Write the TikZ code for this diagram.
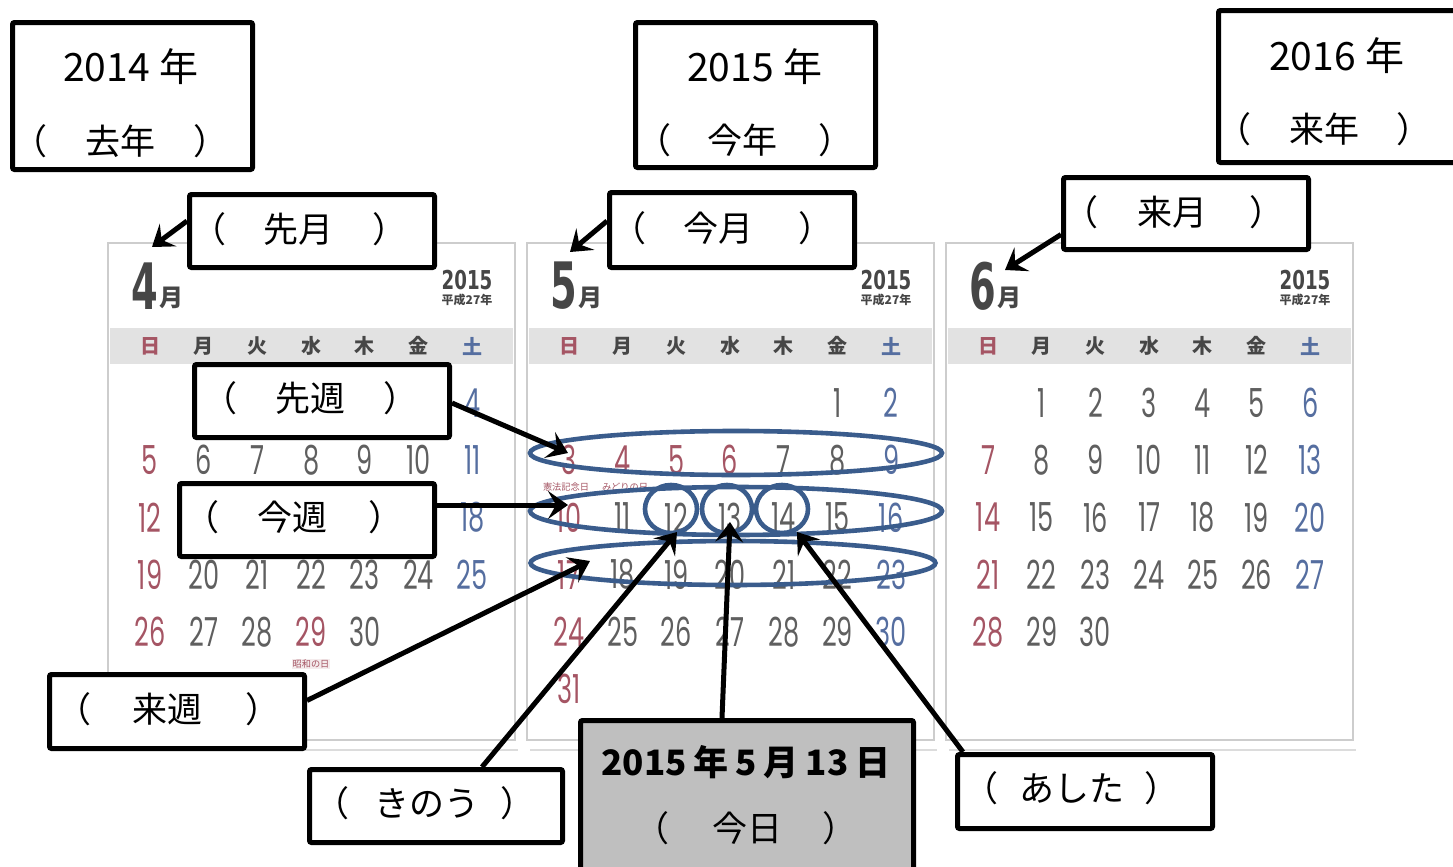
\documentclass[tikz,border=0pt]{standalone}
\usepackage{fontspec}
\setmainfont{Noto Sans CJK JP}
\newfontfamily\cjk{Noto Sans CJK JP}
\newfontfamily\numfont[FakeStretch=0.64]{Poppins}
\newfontfamily\condfont[FakeStretch=0.7]{DejaVu Sans}
\newfontfamily\bigfont[FakeStretch=0.6]{DejaVu Sans}
\usetikzlibrary{shapes.geometric,arrows.meta,calc}
\definecolor{suncol}{RGB}{165,85,100}
\definecolor{satcol}{RGB}{85,110,160}
\definecolor{wkcol}{RGB}{95,95,95}
\definecolor{ellcol}{RGB}{58,92,140}
\definecolor{bandcol}{RGB}{226,226,226}
\definecolor{framecol}{RGB}{205,205,205}
\definecolor{shadecol}{RGB}{220,220,220}
\definecolor{headcol}{RGB}{70,70,70}
\definecolor{todaycol}{RGB}{191,191,191}
\newcommand\calmonth[6]{%
  \foreach \dd in {1,...,#4}{%
    \pgfmathtruncatemacro\cmidx{\dd+#3-1}%
    \pgfmathtruncatemacro\cmcol{mod(\cmidx,7)}%
    \pgfmathtruncatemacro\cmrow{floor(\cmidx/7)}%
    \xdef\cmclr{wkcol}%
    \ifnum\cmcol=0 \xdef\cmclr{suncol}\fi
    \ifnum\cmcol=6 \xdef\cmclr{satcol}\fi
    \foreach \hh in {#5}{\ifnum\dd=\hh\relax \xdef\cmclr{suncol}\fi}%
    \xdef\cmshow{1}%
    \foreach \ss in {#6}{\ifnum\dd=\ss\relax \xdef\cmshow{0}\fi}%
    \ifnum\cmshow=1
      \node[num,text=\cmclr] (#1d\dd) at ({#2+53.7*\cmcol},{403+57.2*\cmrow}) {\dd};
    \fi
  }%
}
\newcommand\pp[3]{（\hspace{#1}#2\hspace{#3}）}
\begin{document}
\begin{tikzpicture}[x=0.5pt,y=-0.5pt,
  num/.style={font=\numfont\fontsize{20}{20}\selectfont, inner sep=0pt},
  box/.style={draw=black, line width=2.5pt, fill=white, rounded corners=1pt, inner sep=0pt},
  lbl/.style={font=\cjk\fontsize{17.5}{20}\selectfont, inner sep=0pt},
  yearlbl/.style={font=\cjk\fontsize{19.5}{22}\selectfont, inner sep=0pt},
  wk/.style={ellipse, draw=ellcol, line width=2.3pt, inner sep=0pt},
  arr/.style={line width=2.5pt, -{Stealth[length=10pt,width=14pt,inset=4pt]}},
  dow/.style={font=\cjk\bfseries\fontsize{10}{10}\selectfont, inner sep=0pt},
  holi/.style={font=\cjk\fontsize{4.6}{4.6}\selectfont, text=suncol, inner sep=0.4pt},
]
\useasboundingbox (0,0) rectangle (1453,867);

% ---- calendar panels
\foreach \k in {0,1,2}{
  \pgfmathsetmacro\ox{419*\k}
  \pgfmathtruncatemacro\mn{4+\k}
  \draw[shadecol, line width=1pt] ({111+\ox},750) -- ({518+\ox},750);
  \draw[draw=framecol, fill=white, line width=1.2pt] ({108+\ox},243) rectangle ({515+\ox},740);
  \fill[bandcol] ({110+\ox},328) rectangle ({513+\ox},364);
  \node[dow,text=suncol] (dw\k a) at ({150+\ox},346) {日};
  \node[dow,text=headcol] (dw\k b) at ({150+53.7+\ox},346) {月};
  \node[dow,text=headcol] (dw\k c) at ({150+2*53.7+\ox},346) {火};
  \node[dow,text=headcol] (dw\k d) at ({150+3*53.7+\ox},346) {水};
  \node[dow,text=headcol] (dw\k e) at ({150+4*53.7+\ox},346) {木};
  \node[dow,text=headcol] (dw\k f) at ({150+5*53.7+\ox},346) {金};
  \node[dow,text=satcol] (dw\k g) at ({150+6*53.7+\ox},346) {土};
  \node[font=\bigfont\bfseries\fontsize{32}{32}\selectfont, text=headcol, inner sep=0pt] (mlab\k) at ({145+\ox},286) {\mn};
  \node[font=\cjk\bfseries\fontsize{12}{12}\selectfont, text=headcol, inner sep=0pt] (mtsuki\k) at ({171+\ox},298) {月};
  \node[font=\condfont\bfseries\fontsize{13}{13}\selectfont, text=headcol, inner sep=0pt] (yr\k) at ({467+\ox},280) {2015};
  \node[font=\cjk\bfseries\fontsize{6}{6}\selectfont, text=headcol, inner sep=0pt] (hs\k) at ({467+\ox},300) {平成27年};
}

\calmonth{m4}{150}{3}{30}{29}{1,2,3,13,14,15,16,17}
\calmonth{m5}{569}{5}{31}{3,4,5,6}{0}
\calmonth{m6}{988}{1}{30}{0}{0}

\node[holi, fill=suncol!12] (h29) at (311,664) {昭和の日};
\node[holi] (h3) at (566,487) {憲法記念日};
\node[holi] (h4) at (625,487) {みどりの日};

% ---- week ellipses and day circles
\node[wk, minimum width=206pt, minimum height=22pt] (wk1) at (736,453) {};
\node[wk, minimum width=206pt, minimum height=24pt] (wk2) at (736,511) {};
\node[wk, minimum width=202.5pt, minimum height=22pt] (wk3) at (733,563) {};
\node[wk, minimum width=26pt, minimum height=24pt] (c12) at (671,509) {};
\node[wk, minimum width=25pt, minimum height=24pt] (c13) at (727,509) {};
\node[wk, minimum width=26pt, minimum height=24pt] (c14) at (782,509) {};

% ---- label boxes
\node[box, minimum width=120pt, minimum height=73.5pt] (y2014) at (132.5,96) {};
\node[box, minimum width=120pt, minimum height=72.5pt] (y2015) at (755.5,95) {};
\node[box, minimum width=140pt, minimum height=76pt] (y2016) at (1358.5,86.5) {};
\node[box, minimum width=122.5pt, minimum height=36.5pt] (sengetsu) at (312,231) {};
\node[box, minimum width=122.5pt, minimum height=37.5pt] (kongetsu) at (732,230) {};
\node[box, minimum width=122.5pt, minimum height=36pt] (raigetsu) at (1186,213.5) {};
\node[box, minimum width=127.5pt, minimum height=36.5pt] (senshu) at (322,401) {};
\node[box, minimum width=127.5pt, minimum height=36.5pt] (konshu) at (307,520) {};
\node[box, minimum width=127.5pt, minimum height=37pt] (raishu) at (177,711.5) {};
\node[box, minimum width=126.5pt, minimum height=36.5pt] (kinou) at (436,806) {};
\node[box, fill=todaycol, minimum width=166.5pt, minimum height=78.5pt] (kyou) at (747,799) {};
\node[box, minimum width=127.5pt, minimum height=37pt] (ashita) at (1085,791.5) {};

% ---- texts
\node[yearlbl] (t2014a) at (131,67) {2014\hspace{0.25em}年};
\node[lbl] (t2014b) at (120.5,141) {\pp{1.08em}{去年}{1.1em}};
\node[yearlbl] (t2015a) at (755,67) {2015\hspace{0.25em}年};
\node[lbl] (t2015b) at (745,140) {\pp{1.05em}{今年}{1.17em}};
\node[yearlbl] (t2016a) at (1337,56) {2016\hspace{0.25em}年};
\node[lbl] (t2016b) at (1324,129) {\pp{1.1em}{来年}{1.05em}};
\node[lbl] (tsengetsu) at (299.5,229) {\pp{1.05em}{先月}{1.1em}};
\node[lbl] (tkongetsu) at (722.5,228) {\pp{1.05em}{今月}{1.3em}};
\node[lbl] (traigetsu) at (1174,212) {\pp{1.1em}{来月}{1.2em}};
\node[lbl] (tsenshu) at (310.5,398) {\pp{1.08em}{先週}{1.1em}};
\node[lbl] (tkonshu) at (294,517) {\pp{1.1em}{今週}{1.17em}};
\node[lbl] (traishu) at (168.5,709) {\pp{1.15em}{来週}{1.23em}};
\node[lbl] (tkinou) at (425,803) {\pp{0.7em}{きのう}{0.6em}};
\node[lbl] (tashita) at (1071.5,788) {\pp{0.6em}{あした}{0.55em}};
\node[lbl, font=\cjk\bfseries\fontsize{17.5}{20}\selectfont] (tdate) at (746,762) {2015\hspace{0.2em}年\hspace{0.2em}5\hspace{0.2em}月\hspace{0.2em}13\hspace{0.2em}日};
\node[lbl] (tkyou) at (746,828) {\pp{1.25em}{今日}{1.15em}};

% ---- arrow end points
\coordinate (p4) at (152,247);
\coordinate (p5) at (570,252);
\coordinate (p6) at (1005,270);
\coordinate (pw1) at (568,453);
\coordinate (pw2) at (568,505);
\coordinate (pw3) at (590,561);
\coordinate (p12) at (677,532);
\coordinate (p13) at (730,522);
\coordinate (p14) at (797,532);

% ---- arrows
\draw[arr] ($(sengetsu.west)+(0,-10)$) -- (p4);
\draw[arr] ($(kongetsu.west)+(0,-9)$) -- (p5);
\draw[arr] ($(raigetsu.west)+(0,21)$) -- (p6);
\draw[arr] ($(senshu.east)+(0,2)$) -- (pw1);
\draw[arr] ($(konshu.east)+(0,-15)$) -- (pw2);
\draw[arr] ($(raishu.east)+(0,-11)$) -- (pw3);
\draw[arr] ($(kinou.north)+(46,0)$) -- (p12);
\draw[arr] ($(kyou.north)+(-25,0)$) -- (p13);
\draw[arr] ($(ashita.north west)+(8,0)$) -- (p14);
\end{tikzpicture}
\end{document}
